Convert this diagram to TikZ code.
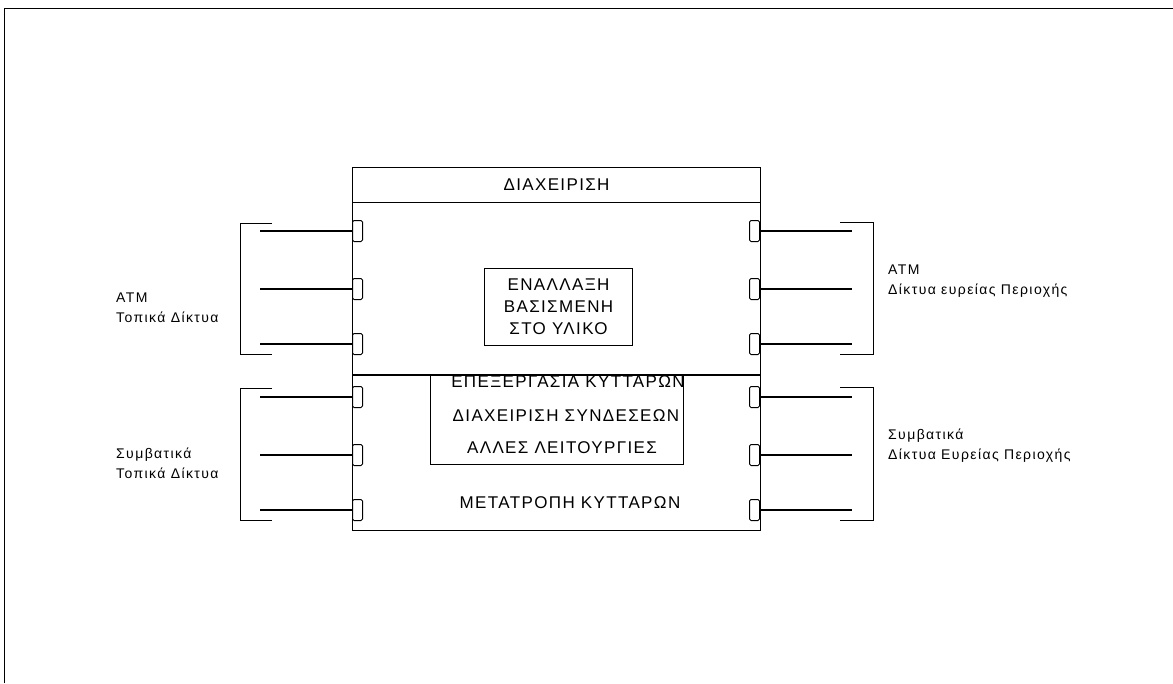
\documentclass[tikz,border=0pt]{standalone}
\usepackage{fontspec}
\setmainfont{Liberation Sans}
\newfontfamily\widefont[LetterSpace=8]{Liberation Sans}
\newfontfamily\labelfont[LetterSpace=10]{Liberation Sans}
\usetikzlibrary{positioning}

\begin{document}
\begin{tikzpicture}[x=1pt,y=-1pt,
  box/.style={draw,line width=1.1pt,inner sep=0pt},
  port/.style={draw,line width=1pt,rounded corners=1.5pt,minimum width=10pt,minimum height=21pt,inner sep=0pt},
  wire/.style={line width=1.2pt},
  bracket/.style={line width=1pt},
  capstext/.style={font=\widefont\fontsize{17}{22}\selectfont,inner sep=0pt},
  nettext/.style={font=\labelfont\fontsize{14}{20}\selectfont,align=left,inner sep=0pt,anchor=west}]
  \useasboundingbox (0,0) rectangle (1173,683);
  % page frame
  \coordinate (fTL) at (4,8);
  \coordinate (fTR) at (1173,8);
  \coordinate (fBL) at (4,683);
  \draw[line width=1pt] (fBL) -- (fTL) -- (fTR);

  % main switch
  \node[box,anchor=north west,minimum width=408pt,minimum height=363pt] (main) at (352,167) {};
  \node[box,anchor=north west,minimum width=408pt,minimum height=35pt,capstext] (mgmt) at (352,167) {ΔΙΑΧΕΙΡΙΣΗ};
  \node[box,anchor=north west,minimum width=148pt,minimum height=77pt,capstext,align=center] (fabric) at (484,268) {ΕΝΑΛΛΑΞΗ\\ΒΑΣΙΣΜΕΝΗ\\ΣΤΟ ΥΛΙΚΟ};
  \node[box,anchor=north west,minimum width=253pt,minimum height=89pt] (proc) at (430,375) {};
  \draw[box] (main.west |- proc.north) -- (main.east |- proc.north);
  \node[capstext] (cellproc) at (568,382) {ΕΠΕΞΕΡΓΑΣΙΑ ΚΥΤΤΑΡΩΝ};
  \node[capstext] (connmgmt) at (566,416) {ΔΙΑΧΕΙΡΙΣΗ ΣΥΝΔΕΣΕΩΝ};
  \node[capstext] (otherfn) at (562,448) {ΑΛΛΕΣ ΛΕΙΤΟΥΡΓΙΕΣ};
  \node[capstext] (cellconv) at (570,503) {ΜΕΤΑΤΡΟΠΗ ΚΥΤΤΑΡΩΝ};

  % ports, left side
  \node[port,anchor=west] (pL1) at (352,231) {};
  \node[port,anchor=west] (pL2) at (352,289) {};
  \node[port,anchor=west] (pL3) at (352,344) {};
  \node[port,anchor=west] (pL4) at (352,397) {};
  \node[port,anchor=west] (pL5) at (352,455) {};
  \node[port,anchor=west] (pL6) at (352,510) {};
  % ports, right side
  \node[port,anchor=east] (pR1) at (760,231) {};
  \node[port,anchor=east] (pR2) at (760,289) {};
  \node[port,anchor=east] (pR3) at (760,344) {};
  \node[port,anchor=east] (pR4) at (760,397) {};
  \node[port,anchor=east] (pR5) at (760,455) {};
  \node[port,anchor=east] (pR6) at (760,510) {};

  % links
  \coordinate (eL1) at (260,231);
  \coordinate (eL2) at (260,289);
  \coordinate (eL3) at (260,344);
  \coordinate (eL4) at (260,397);
  \coordinate (eL5) at (260,455);
  \coordinate (eL6) at (260,510);
  \coordinate (eR1) at (852,231);
  \coordinate (eR2) at (852,289);
  \coordinate (eR3) at (852,344);
  \coordinate (eR4) at (852,397);
  \coordinate (eR5) at (852,455);
  \coordinate (eR6) at (852,510);
  \draw[wire] (pL1.west) -- (eL1);
  \draw[wire] (pL2.west) -- (eL2);
  \draw[wire] (pL3.west) -- (eL3);
  \draw[wire] (pL4.west) -- (eL4);
  \draw[wire] (pL5.west) -- (eL5);
  \draw[wire] (pL6.west) -- (eL6);
  \draw[wire] (pR1.east) -- (eR1);
  \draw[wire] (pR2.east) -- (eR2);
  \draw[wire] (pR3.east) -- (eR3);
  \draw[wire] (pR4.east) -- (eR4);
  \draw[wire] (pR5.east) -- (eR5);
  \draw[wire] (pR6.east) -- (eR6);

  % brackets
  \draw[bracket] (272,223) -- (240,223) -- (240,354) -- (272,354);
  \draw[bracket] (272,388) -- (240,388) -- (240,520) -- (272,520);
  \draw[bracket] (840,222) -- (873,222) -- (873,354) -- (840,354);
  \draw[bracket] (840,387) -- (873,387) -- (873,520) -- (840,520);

  % network labels
  \node[nettext] (atmlan) at (116,308) {ATM\\Τοπικά Δίκτυα};
  \node[nettext] (convlan) at (116,463) {Συμβατικά\\Τοπικά Δίκτυα};
  \node[nettext] (atmwan) at (888,281) {ATM\\Δίκτυα ευρείας Περιοχής};
  \node[nettext] (convwan) at (888,446) {Συμβατικά\\Δίκτυα Ευρείας Περιοχής};
\end{tikzpicture}
\end{document}
